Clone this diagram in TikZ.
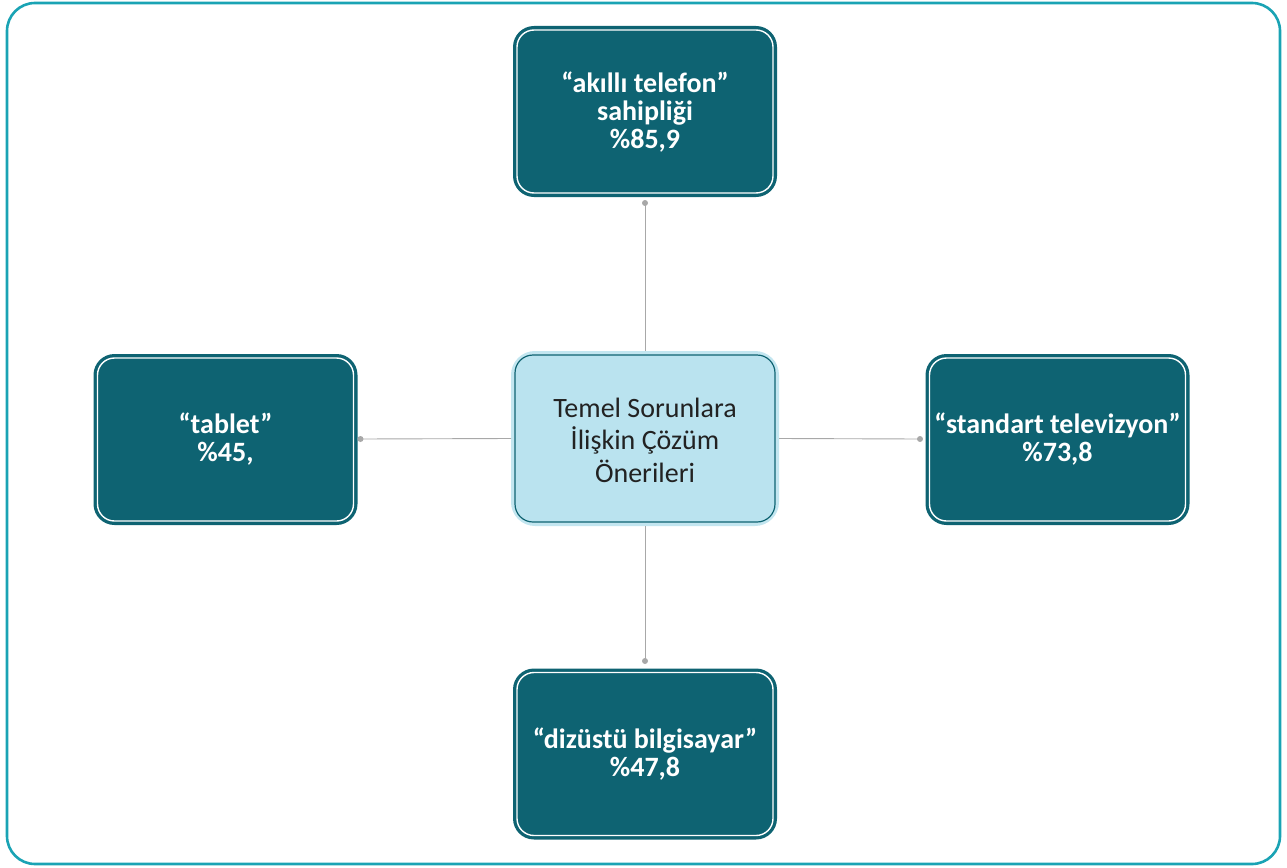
\documentclass[tikz,border=0pt]{standalone}
\usepackage{fontspec}
\setmainfont{Carlito}
\definecolor{frame}{HTML}{1AA3B4}
\definecolor{dteal}{HTML}{0E6372}
\definecolor{lblue}{HTML}{BAE3EF}
\definecolor{lblueb}{HTML}{C3E6F0}
\definecolor{conn}{HTML}{A8A8A8}
\definecolor{ctext}{HTML}{222222}
\begin{document}
\begin{tikzpicture}[x=1pt,y=-1pt,
  outerbox/.style={draw=dteal,fill=dteal,line width=2pt,rounded corners=20pt,minimum width=262pt,minimum height=169pt,inner sep=0pt},
  whiteline/.style={draw=white,line width=1.4pt,rounded corners=17pt},
  boxtext/.style={text=white,font=\bfseries\fontsize{28}{28}\selectfont,align=center},
  cbox/.style={draw=lblueb,fill=lblue,line width=4pt,rounded corners=22pt,minimum width=264pt,minimum height=171pt,inner sep=0pt},
  conline/.style={draw=conn,line width=0.9pt},
  dot/.style={circle,fill=conn,inner sep=0pt,minimum size=6pt}]
\useasboundingbox (0,0) rectangle (1287,867);
\draw[frame,line width=2.6pt,rounded corners=28pt] (7,3) rectangle (1280,864);

% boxes
\node[outerbox] (top) at (645,111.5) {};
\draw[whiteline] ([xshift=4pt,yshift=-4pt]top.north west) rectangle ([xshift=-4pt,yshift=4pt]top.south east);
\node[boxtext] (toptext) at (645,112) {“akıllı telefon”\\sahipliği\\\%85,9};

\node[outerbox] (left) at (225.5,439.5) {};
\draw[whiteline] ([xshift=4pt,yshift=-4pt]left.north west) rectangle ([xshift=-4pt,yshift=4pt]left.south east);
\node[boxtext] (lefttext) at (225.5,439) {“tablet”\\\%45,};

\node[outerbox] (right) at (1057.5,439.5) {};
\draw[whiteline] ([xshift=4pt,yshift=-4pt]right.north west) rectangle ([xshift=-4pt,yshift=4pt]right.south east);
\node[boxtext] (righttext) at (1057.5,439) {“standart televizyon”\\\%73,8};

\node[outerbox] (bottom) at (645,754) {};
\draw[whiteline] ([xshift=4pt,yshift=-4pt]bottom.north west) rectangle ([xshift=-4pt,yshift=4pt]bottom.south east);
\node[boxtext] (bottomtext) at (645,754) {“dizüstü bilgisayar”\\\%47,8};

% center
\node[cbox] (center) at (645,438.5) {};
\draw[dteal,line width=1.2pt,rounded corners=18pt] ([xshift=4pt,yshift=-4pt]center.north west) rectangle ([xshift=-4pt,yshift=4pt]center.south east);
\node[text=ctext,font=\fontsize{28}{32.5}\selectfont,align=center] (centertext) at (645,440) {Temel Sorunlara\\İlişkin Çözüm\\Önerileri};

% connector ends
\node[dot] (dtop) at (645,203) {};
\node[dot] (dleft) at (360.5,439) {};
\node[dot] (dright) at (920,439) {};
\node[dot] (dbottom) at (645,661) {};

\draw[conline] (center.north) -- (dtop.center);
\draw[conline] (center.west) -- (dleft.center);
\draw[conline] (center.east) -- (dright.center);
\draw[conline] (center.south) -- (dbottom.center);
\end{tikzpicture}
\end{document}
